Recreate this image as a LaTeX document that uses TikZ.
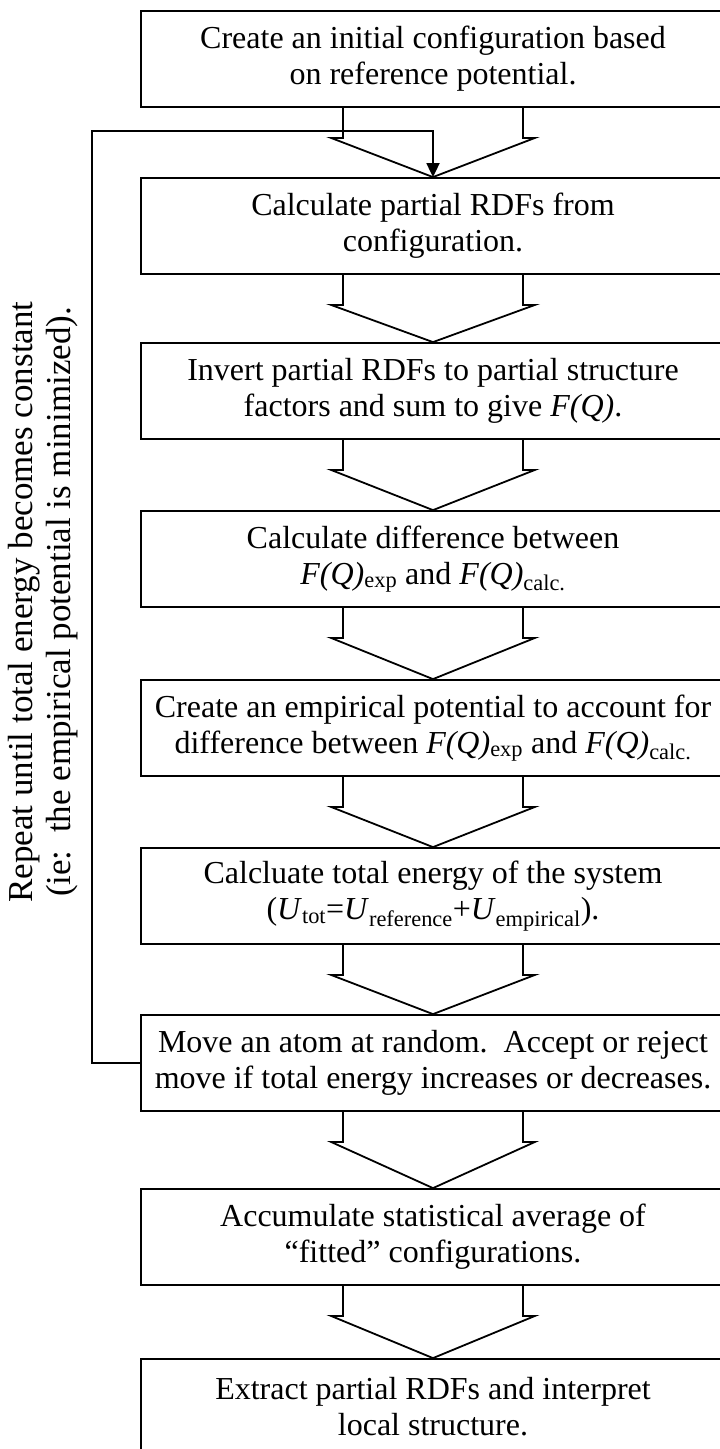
\documentclass[tikz,border=0pt]{standalone}
\usepackage{fontspec}
\setmainfont{Liberation Serif}
\usetikzlibrary{arrows.meta,calc}
\newcommand{\flowarrow}[2]{%
  \draw[blockarrow] ([xshift=-90pt]#1.south) -- ++(0,30) -- ++(-12,0) -- (#2.north)
    -- ($([xshift=102pt]#1.south)+(0,30)$) -- ++(-12,0) -- ++(0,-30);}
\begin{document}
\begin{tikzpicture}[x=1pt,y=-1pt,
  stepbox/.style={draw,line width=1.8pt,minimum width=584pt,minimum height=96pt,
    align=center,inner sep=0pt,font=\fontsize{32}{36}\selectfont},
  blockarrow/.style={line width=1.8pt,line join=miter},
  loopline/.style={line width=1.8pt},
  sidelabel/.style={rotate=90,align=center,font=\fontsize{35}{38}\selectfont}]
\clip (0,0) rectangle (720,1449);
\fill[white] (0,0) rectangle (720,1449);

\node[stepbox] (b1) at (433,59) {Create an initial configuration based\\on reference potential.};
\node[stepbox] (b2) at (433,226) {Calculate partial RDFs from\\configuration.};
\node[stepbox] (b3) at (433,391) {Invert partial RDFs to partial structure\\factors and sum to give \textit{F(Q)}.};
\node[stepbox] (b4) at (433,559) {Calculate difference between\\\textit{F(Q)}\textsubscript{exp} and \textit{F(Q)}\textsubscript{calc.}};
\node[stepbox] (b5) at (433,728) {Create an empirical potential to account for\\difference between \textit{F(Q)}\textsubscript{exp} and \textit{F(Q)}\textsubscript{calc.}};
\node[stepbox] (b6) at (433,896) {Calcluate total energy of the system\\(\textit{U}\textsubscript{tot}=\textit{U}\textsubscript{reference}+\textit{U}\textsubscript{empirical}).};
\node[stepbox] (b7) at (433,1063) {Move an atom at random.\ \ Accept or reject\\move if total energy increases or decreases.};
\node[stepbox] (b8) at (433,1237) {Accumulate statistical average of\\“fitted” configurations.};
\node[stepbox] (b9) at (433,1407) {Extract partial RDFs and interpret\\local structure.};

\flowarrow{b1}{b2}
\flowarrow{b2}{b3}
\flowarrow{b3}{b4}
\flowarrow{b4}{b5}
\flowarrow{b5}{b6}
\flowarrow{b6}{b7}
\flowarrow{b7}{b8}
\flowarrow{b8}{b9}

\coordinate (lt) at (92,131);
\coordinate (lr) at (433,131);
\draw[loopline,-{Triangle[length=14pt,width=13pt]}] (b7.west) -| (lt) -- (lr) -- (b2.north);

\node[sidelabel] (lbl) at (43,602) {Repeat until total energy becomes constant\\(ie:\ \ the empirical potential is minimized).};
\end{tikzpicture}
\end{document}
